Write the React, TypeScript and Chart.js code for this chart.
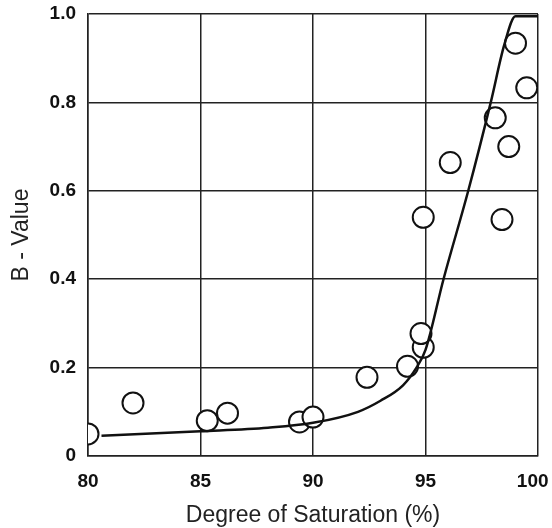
import React, { useEffect, useRef } from "react";
import { Chart, registerables } from "chart.js";

Chart.register(...registerables);

const pointX = [80.0, 82.0, 85.3, 86.2, 89.4, 90.0, 92.4, 94.2, 94.9, 94.8, 94.9, 96.1, 98.4, 98.7, 98.1, 99.5, 99.0];
const pointY = [0.05, 0.12, 0.08, 0.097, 0.077, 0.088, 0.178, 0.203, 0.246, 0.277, 0.54, 0.664, 0.535, 0.70, 0.765, 0.833, 0.934];

const curveX = [80.6, 85.0, 88.0, 90.0, 92.0, 93.0, 94.0, 94.6, 95.0, 95.8, 96.9, 97.9, 98.5, 99.0, 100.0];
const curveY = [0.046, 0.056, 0.064, 0.075, 0.1, 0.125, 0.16, 0.2, 0.24, 0.4, 0.6, 0.8, 0.93, 0.995, 0.995];

const xTicks = [80, 85, 90, 95, 100];
const yTicks = [0, 0.2, 0.4, 0.6, 0.8, 1.0];

const zeroPad = (s: any) => {
  s.paddingTop = 0;
  s.paddingBottom = 0;
  s.paddingLeft = 0;
  s.paddingRight = 0;
};

export default function App() {
  const ref = useRef<HTMLCanvasElement>(null);
  useEffect(() => {
    document.body.style.margin = "0";
    const ctx = ref.current!;
    const chart = new Chart(ctx, {
      type: "scatter",
      data: {
        datasets: [
          {
            type: "line",
            data: curveX.map((x, i) => ({ x, y: curveY[i] })),
            borderColor: "#111",
            borderWidth: 2.5,
            pointRadius: 0,
            cubicInterpolationMode: "monotone",
            fill: false,
          } as any,
          {
            data: pointX.map((x, i) => ({ x, y: pointY[i] })),
            backgroundColor: "#fff",
            borderColor: "#111",
            borderWidth: 2,
            pointRadius: 10.5,
          },
        ],
      },
      options: {
        animation: false,
        responsive: false,
        layout: { padding: { top: 14, right: 14, left: 0, bottom: 0 } },
        plugins: { legend: { display: false }, tooltip: { enabled: false } },
        scales: {
          x: {
            type: "linear",
            min: 80,
            max: 100,
            afterBuildTicks: (s: any) => {
              s.ticks = xTicks.map((v) => ({ value: v }));
            },
            afterFit: (s: any) => {
              s.height = 72;
              zeroPad(s);
            },
            grid: { color: "#222", lineWidth: 1.5, drawTicks: false },
            border: { color: "#222", width: 1.5 },
            ticks: {
              padding: 14,
              color: "#111",
              font: { family: "Liberation Sans, Arial", size: 19, weight: "bold" },
              callback: (v: any) => (v === 100 ? "100  " : String(v)),
            },
            title: {
              display: true,
              text: "Degree of Saturation (%)",
              color: "#222",
              font: { family: "Liberation Sans, Arial", size: 23 },
              padding: { top: 3, bottom: -1 },
            },
          },
          y: {
            type: "linear",
            min: 0,
            max: 1,
            afterBuildTicks: (s: any) => {
              s.ticks = yTicks.map((v) => ({ value: v }));
            },
            afterFit: (s: any) => {
              s.width = 88;
              zeroPad(s);
            },
            grid: { color: "#222", lineWidth: 1.5, drawTicks: false },
            border: { color: "#222", width: 1.5 },
            ticks: {
              padding: 12,
              color: "#111",
              font: { family: "Liberation Sans, Arial", size: 19, weight: "bold" },
              callback: (v: any) => (v === 0 ? "0" : Number(v).toFixed(1)),
            },
            title: {
              display: true,
              text: "B - Value",
              color: "#222",
              font: { family: "Liberation Sans, Arial", size: 23 },
              padding: { top: 8, bottom: 0 },
            },
          },
        },
      },
    });
    return () => chart.destroy();
  }, []);
  return (
    <div style={{ width: 552, height: 528 }}>
      <canvas ref={ref} width={552} height={528} style={{ display: "block" }} />
    </div>
  );
}
